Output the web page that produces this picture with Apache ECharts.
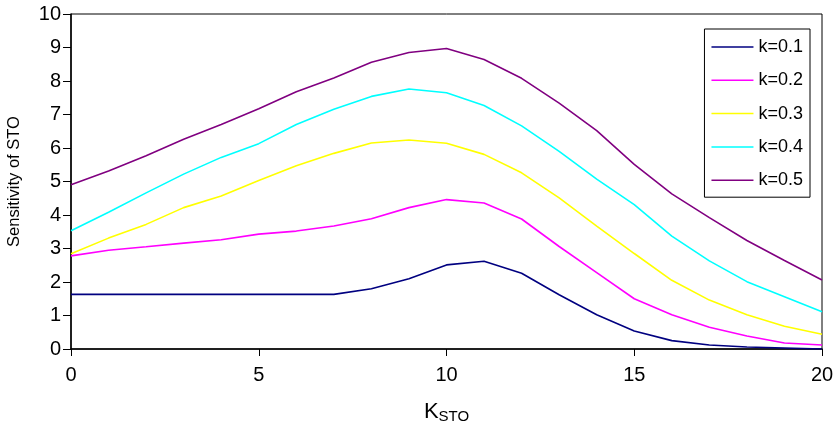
<!DOCTYPE html>
<html><head><meta charset="utf-8">
<script src="https://cdn.jsdelivr.net/npm/echarts@6/dist/echarts.min.js"></script>
<style>html,body{margin:0;padding:0;background:#fff}#c{width:836px;height:424px}</style>
</head><body><div id="c"></div>
<script>
const xs = [0,1,2,3,4,5,6,7,8,9,10,11,12,13,14,15,16,17,18,19,20];
const seriesNames = ['k=0.1','k=0.2','k=0.3','k=0.4','k=0.5'];
const k01 = [1.63,1.63,1.63,1.63,1.63,1.63,1.63,1.63,1.80,2.10,2.51,2.62,2.26,1.62,1.02,0.54,0.25,0.12,0.06,0.03,0.0];
const k02 = [2.78,2.95,3.05,3.16,3.26,3.43,3.52,3.67,3.89,4.22,4.46,4.36,3.88,3.06,2.28,1.50,1.02,0.65,0.39,0.18,0.12];
const k03 = [2.84,3.31,3.72,4.22,4.57,5.03,5.47,5.84,6.15,6.24,6.14,5.81,5.26,4.51,3.67,2.85,2.05,1.46,1.02,0.68,0.44];
const k04 = [3.53,4.08,4.66,5.22,5.72,6.13,6.70,7.16,7.54,7.76,7.65,7.27,6.66,5.90,5.07,4.31,3.37,2.63,2.01,1.56,1.11];
const k05 = [4.90,5.31,5.77,6.26,6.70,7.17,7.68,8.09,8.56,8.85,8.97,8.64,8.08,7.34,6.52,5.51,4.63,3.92,3.24,2.64,2.06];
const colors = ['#000080','#ff00ff','#ffff00','#00ffff','#800080'];
const allY = [k01,k02,k03,k04,k05];

const font = 'Liberation Sans, Arial, sans-serif';
const chart = echarts.init(document.getElementById('c'));
chart.setOption({
  animation: false,
  backgroundColor: '#fff',
  textStyle: {fontFamily: font},
  grid: {left: 71, right: 14, top: 14, bottom: 75, show: true, borderColor: '#000', borderWidth: 1, backgroundColor: 'transparent', containLabel: false, outerBoundsMode: 'none'},
  legend: {
    orient: 'vertical', right: 26, top: 29,
    borderColor: '#000', borderWidth: 1, backgroundColor: '#fff',
    padding: [8, 7, 7, 7], itemGap: 13.3, itemWidth: 42, itemHeight: 1.5,
    icon: 'rect',
    textStyle: {fontFamily: font, fontSize: 18, lineHeight: 20, color: '#000'},
    data: seriesNames
  },
  xAxis: {
    type: 'value', min: 0, max: 20, interval: 5,
    name: '{k|K}{s|STO}', nameLocation: 'middle', nameGap: 50,
    nameTextStyle: {rich: {k: {fontSize: 22, fontFamily: font, color: '#000'}, s: {fontSize: 15, fontFamily: font, color: '#000', verticalAlign: 'bottom', padding: [10,0,0,0]}}},
    axisLine: {lineStyle: {color: '#000', width: 1.5}},
    axisTick: {show: true, length: 7, lineStyle: {color: '#000'}},
    axisLabel: {fontSize: 20, color: '#000', margin: 16},
    splitLine: {show: false}
  },
  yAxis: {
    type: 'value', min: 0, max: 10, interval: 1,
    name: 'Sensitivity of STO', nameLocation: 'middle', nameGap: 48,
    nameTextStyle: {fontSize: 16.5, color: '#000', fontFamily: font},
    axisLine: {show: true, lineStyle: {color: '#000', width: 1.5}},
    axisTick: {show: true, length: 8, lineStyle: {color: '#000'}},
    axisLabel: {fontSize: 20, color: '#000', margin: 10},
    splitLine: {show: false}
  },
  series: seriesNames.map((n, i) => ({
    name: n, type: 'line', symbol: 'none',
    data: xs.map((x, j) => [x, allY[i][j]]),
    lineStyle: {color: colors[i], width: 1.6},
    itemStyle: {color: colors[i]}
  }))
});
</script></body></html>
